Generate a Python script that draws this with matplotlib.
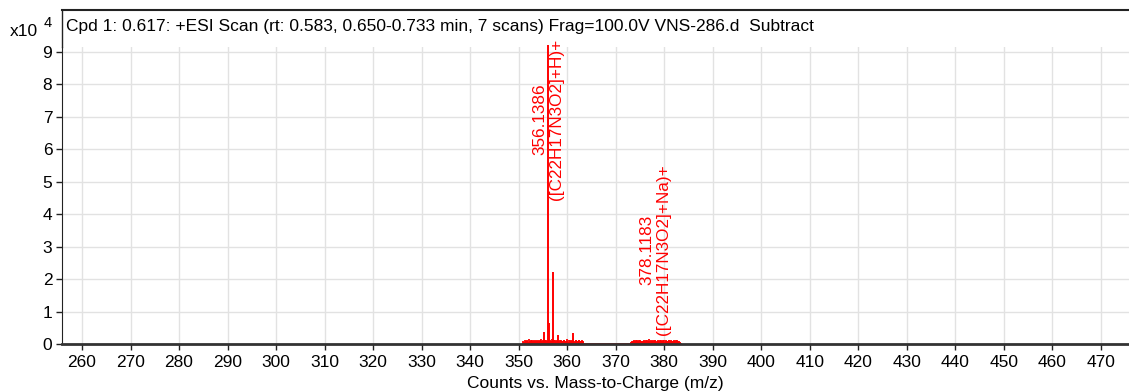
import numpy as np
import matplotlib
matplotlib.use('Agg')
import matplotlib.pyplot as plt
from matplotlib.lines import Line2D

plt.rcParams['font.family'] = ['Liberation Sans', 'DejaVu Sans']

# ── dados (intensidade em unidades de 1e4 contagens) ─────────────
peak_mz = [355.14, 356.1386, 356.28, 357.14, 358.15, 361.30, 378.1183]
peak_int = [0.38, 9.22, 0.65, 2.22, 0.28, 0.35, 0.12]

noise1_mz = [351.0, 351.15, 351.3, 351.45, 351.6, 351.7, 351.8, 351.95, 352.1, 352.25,
             352.4, 352.5, 352.6, 352.75, 352.9, 353.05, 353.2, 353.3, 353.4, 353.55,
             353.7, 353.85, 354.0, 354.15, 354.3, 354.45, 354.6, 354.7, 354.8, 354.95,
             355.3, 355.4, 355.55, 355.7, 355.85, 356.45, 356.6, 356.75, 356.9, 357.3,
             357.5, 357.65, 357.8, 357.95, 358.35, 358.5, 358.65, 358.8, 358.95, 359.1,
             359.25, 359.4, 359.5, 359.6, 359.75, 359.9, 360.05, 360.2, 360.35, 360.5,
             360.65, 360.8, 360.9, 361.0, 361.15, 361.45, 361.6, 361.75, 361.9, 362.05,
             362.2, 362.35, 362.5, 362.65, 362.8, 362.95, 363.1, 363.2, 363.3]
noise1_int = [0.08, 0.05, 0.12, 0.09, 0.07, 0.11, 0.10, 0.06, 0.14, 0.08,
              0.06, 0.10, 0.11, 0.13, 0.09, 0.07, 0.13, 0.08, 0.07, 0.12,
              0.10, 0.06, 0.12, 0.09, 0.08, 0.11, 0.15, 0.07, 0.09, 0.12,
              0.10, 0.11, 0.08, 0.13, 0.10, 0.12, 0.10, 0.08, 0.14, 0.11,
              0.12, 0.07, 0.09, 0.11, 0.10, 0.11, 0.08, 0.13, 0.09, 0.08,
              0.11, 0.12, 0.07, 0.10, 0.09, 0.14, 0.08, 0.07, 0.12, 0.11,
              0.06, 0.09, 0.10, 0.13, 0.08, 0.10, 0.07, 0.12, 0.12, 0.09,
              0.08, 0.11, 0.11, 0.07, 0.09, 0.10, 0.12, 0.08, 0.07]

noise2_mz = [373.2, 373.35, 373.5, 373.65, 373.8, 373.95, 374.1, 374.25, 374.4, 374.55,
             374.7, 374.85, 375.0, 375.15, 375.3, 375.45, 375.6, 375.75, 375.9, 376.05,
             376.2, 376.35, 376.5, 376.65, 376.8, 376.95, 377.1, 377.25, 377.4, 377.55,
             377.7, 377.85, 378.35, 378.5, 378.65, 378.8, 378.95, 379.1, 379.25, 379.4,
             379.55, 379.7, 379.85, 380.0, 380.15, 380.3, 380.45, 380.6, 380.75, 380.9,
             381.05, 381.2, 381.35, 381.5, 381.65, 381.8, 381.95, 382.1, 382.25, 382.4,
             382.55, 382.7, 382.85, 383.0, 383.2]
noise2_int = [0.07, 0.09, 0.10, 0.06, 0.12, 0.08, 0.08, 0.11, 0.11, 0.07,
              0.09, 0.12, 0.13, 0.08, 0.07, 0.10, 0.10, 0.09, 0.12, 0.07,
              0.08, 0.11, 0.11, 0.09, 0.14, 0.08, 0.09, 0.12, 0.10, 0.08,
              0.12, 0.10, 0.09, 0.07, 0.11, 0.10, 0.08, 0.12, 0.13, 0.09,
              0.10, 0.08, 0.12, 0.11, 0.07, 0.10, 0.11, 0.08, 0.09, 0.12,
              0.12, 0.07, 0.08, 0.11, 0.10, 0.09, 0.08, 0.13, 0.09, 0.11,
              0.11, 0.07, 0.08, 0.09, 0.06]

baseline_mz = [351.0, 383.2]

labels = [(356.1386, 4.44, "356.1386\n([C22H17N3O2]+H)+"),
          (378.1183, 0.28, "378.1183\n([C22H17N3O2]+Na)+")]

x_ticks = list(range(260, 471, 10))
y_ticks = list(range(0, 10))

titulo = "Cpd 1: 0.617: +ESI Scan (rt: 0.583, 0.650-0.733 min, 7 scans) Frag=100.0V VNS-286.d  Subtract"

# ── figura ─────────────────────────────────────────────────────
W, H = 1129, 392
fs = 12.5
fig = plt.figure(figsize=(W / 100, H / 100), dpi=100)
ax_l, ax_r, ax_t, ax_b = 62, 1129, 47, 344
ax = fig.add_axes([ax_l / W, (H - ax_b) / H, (ax_r - ax_l) / W, (ax_b - ax_t) / H])

ax.set_xlim(255.88, 475.8)
ax.set_ylim(0, (ax_b - ax_t) / 32.44)

red = '#ff0000'
ax.plot(baseline_mz, [0, 0], color=red, lw=2)
ax.vlines(noise1_mz, 0, noise1_int, color=red, lw=1.3)
ax.vlines(noise2_mz, 0, noise2_int, color=red, lw=1.3)
ax.vlines(peak_mz, 0, peak_int, color=red, lw=1.4, clip_on=False)

for mz, y, txt in labels:
    ax.text(mz, y, txt, rotation=90, ha='center', va='bottom', color=red,
            fontsize=12.3, multialignment='center', linespacing=1.15)

ax.set_xticks(x_ticks)
ax.set_yticks(y_ticks)
ax.grid(True, color='#e2e2e2', lw=1)
ax.set_axisbelow(True)
ax.tick_params(direction='out', length=4, width=1, color='#222222',
               labelsize=fs, pad=3)
ax.tick_params(axis='x', pad=4)
for s in ['top', 'right']:
    ax.spines[s].set_visible(False)
ax.spines['left'].set_color('#222222')
ax.spines['bottom'].set_color('#333333')
ax.spines['bottom'].set_linewidth(2)
ax.set_xlabel("Counts vs. Mass-to-Charge (m/z)", fontsize=fs, labelpad=4)

# caixa do título (linha superior + prolongamento da borda esquerda)
fig.add_artist(Line2D([ax_l / W, ax_l / W], [(H - ax_t) / H, (H - 10) / H],
                      color='#222222', lw=1))
fig.add_artist(Line2D([ax_l / W, 1.0], [(H - 10) / H, (H - 10) / H],
                      color='#222222', lw=1.5))
fig.text(66 / W, (H - 26) / H, titulo, fontsize=fs, va='center', ha='left')
fig.text(10 / W, (H - 36) / H, "x10", fontsize=fs, va='baseline', ha='left')
fig.text(44 / W, (H - 27) / H, "4", fontsize=10.5, va='baseline', ha='left')

plt.savefig("out.png", dpi=100)
